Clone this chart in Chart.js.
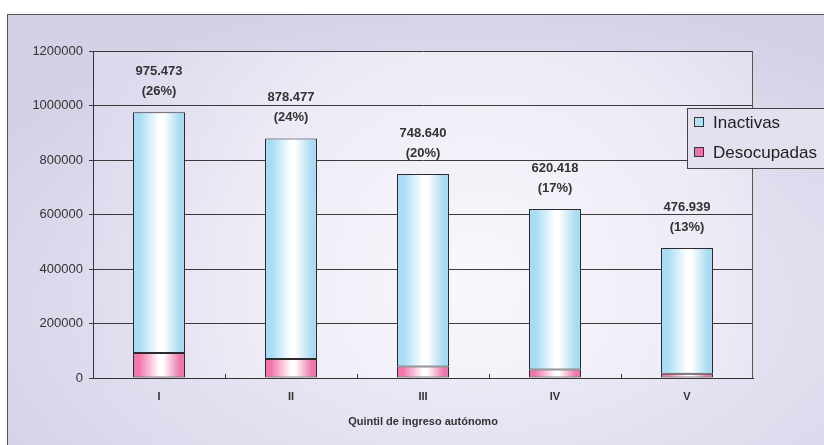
<!DOCTYPE html>
<html>
<head>
<meta charset="utf-8">
<script src="https://cdn.jsdelivr.net/npm/chart.js@4"></script>
<style>
  html, body { margin: 0; padding: 0; background: #fff; overflow: hidden; }
  #frame {
    position: absolute; left: 7px; top: 14px; width: 900px; height: 500px;
    border-left: 1px solid #555; border-top: 1px solid #555;
    background: radial-gradient(ellipse 62% 62% at 52% 58%, #f1f0f8 0%, #e2e0f0 55%, #d4d1e7 100%);
  }
  #myChart { position: absolute; left: 0; top: 0; }
</style>
</head>
<body>
<div id="frame"></div>
<canvas id="myChart" width="824" height="445"></canvas>
<script>
// quintiles
const quintiles = ['I', 'II', 'III', 'IV', 'V'];
// totals shown above the bars
const totals = [975473, 878477, 748640, 620418, 476939];
// series (stacked)
const desocupadas = [92000, 70000, 42000, 31000, 16000];
const inactivas = [883473, 808477, 706640, 589418, 460939];
// y axis ticks
const yTicks = [0, 200000, 400000, 600000, 800000, 1000000, 1200000];

const FONT = '"Liberation Sans", Arial, sans-serif';
const TXT = '#333333';
const BAR_RATIO = 52 / 132;

const grandTotal = totals.reduce((a, b) => a + b, 0);

function fmt(n) {
    return String(n).replace(/\B(?=(\d{3})+(?!\d))/g, '.');
}

// horizontal gradient for each bar, like the old excel cylinders
function barFill(edge, mid) {
    return function(c) {
        const chart = c.chart;
        if (!chart.chartArea || !chart.scales.x) return edge;
        const xs = chart.scales.x;
        const x = xs.getPixelForValue(c.dataIndex);
        const w = xs.width / quintiles.length * BAR_RATIO;
        const g = chart.ctx.createLinearGradient(x - w / 2, 0, x + w / 2, 0);
        g.addColorStop(0, edge);
        g.addColorStop(0.12, edge);
        g.addColorStop(0.5, mid);
        g.addColorStop(0.58, mid);
        g.addColorStop(0.9, edge);
        g.addColorStop(1, edge);
        return g;
    };
}

const plotBg = {
    id: 'plotBg',
    beforeDraw(chart) {
        const {ctx, chartArea: a} = chart;
        const g = ctx.createRadialGradient(a.left + a.width * 0.58, a.top + a.height * 0.7, 10,
                                           a.left + a.width * 0.58, a.top + a.height * 0.7, a.width * 0.62);
        g.addColorStop(0, '#f8f7fc');
        g.addColorStop(0.6, '#eceaf5');
        g.addColorStop(1, '#dcd9ed');
        ctx.save();
        ctx.fillStyle = g;
        ctx.fillRect(a.left, a.top, a.width, a.height);
        ctx.restore();
    },
    afterDatasetsDraw(chart) {
        const {ctx, chartArea: a, scales} = chart;
        ctx.save();
        // right border of the plot
        ctx.strokeStyle = '#555';
        ctx.lineWidth = 1;
        ctx.beginPath();
        ctx.moveTo(Math.round(a.right) - 0.5, a.top);
        ctx.lineTo(Math.round(a.right) - 0.5, a.bottom);
        ctx.stroke();
        // small inner ticks between categories
        ctx.strokeStyle = '#333';
        for (let i = 1; i < quintiles.length; i++) {
            const x = Math.round((scales.x.getPixelForValue(i - 1) + scales.x.getPixelForValue(i)) / 2) + 0.5;
            ctx.beginPath();
            ctx.moveTo(x, a.bottom - 4);
            ctx.lineTo(x, a.bottom);
            ctx.stroke();
        }
        // totals and shares above the bars
        ctx.fillStyle = TXT;
        ctx.font = 'bold 13px ' + FONT;
        ctx.textAlign = 'center';
        ctx.textBaseline = 'middle';
        totals.forEach((t, i) => {
            const x = scales.x.getPixelForValue(i);
            const y = scales.y.getPixelForValue(t);
            ctx.fillText(fmt(t), x, y - 41);
            ctx.fillText('(' + Math.round(t / grandTotal * 100) + '%)', x, y - 21);
        });
        ctx.restore();
    },
    afterDraw(chart) {
        // legend box at the right
        const ctx = chart.ctx;
        const items = chart.data.datasets.slice().reverse();
        ctx.save();
        ctx.fillStyle = '#e3e1f0';
        ctx.fillRect(687.5, 108.5, 160, 60);
        ctx.strokeStyle = '#444';
        ctx.lineWidth = 1;
        ctx.strokeRect(687.5, 108.5, 160, 60);
        ctx.font = '17px ' + FONT;
        ctx.textBaseline = 'middle';
        ctx.textAlign = 'left';
        items.forEach((ds, i) => {
            const y = 122 + i * 30;
            ctx.fillStyle = ds.legendColor;
            ctx.fillRect(694.5, y - 4.5, 9, 9);
            ctx.strokeStyle = '#333';
            ctx.strokeRect(694.5, y - 4.5, 9, 9);
            ctx.fillStyle = '#222';
            ctx.fillText(ds.label, 713, y + 1);
        });
        ctx.restore();
    }
};

const ctx = document.getElementById('myChart').getContext('2d');
const myChart = new Chart(ctx, {
    type: 'bar',
    data: {
        labels: quintiles,
        datasets: [{
            label: 'Desocupadas',
            data: desocupadas,
            legendColor: '#f06fa9',
            backgroundColor: barFill('#f176ab', '#ffffff'),
            borderColor: '#2b2b2b',
            borderWidth: 1,
            borderSkipped: false,
            inflateAmount: 0
        }, {
            label: 'Inactivas',
            data: inactivas,
            legendColor: '#aee0f6',
            backgroundColor: barFill('#a8dcf3', '#ffffff'),
            borderColor: '#2b2b2b',
            borderWidth: 1,
            borderSkipped: false,
            inflateAmount: 0
        }]
    },
    options: {
        responsive: false,
        animation: false,
        layout: { padding: { top: 51, right: 71, left: 0, bottom: 0 } },
        plugins: {
            legend: { display: false },
            tooltip: { enabled: false }
        },
        datasets: {
            bar: { categoryPercentage: 1, barPercentage: BAR_RATIO }
        },
        scales: {
            x: {
                stacked: true,
                grid: { display: false, drawTicks: false },
                border: { display: true, color: '#333', width: 1 },
                ticks: { color: TXT, font: { family: FONT, size: 11, weight: 'bold' }, padding: 12 },
                title: {
                    display: true,
                    text: 'Quintil de ingreso autónomo',
                    color: TXT,
                    font: { family: FONT, size: 11, weight: 'bold' },
                    padding: { top: 0, bottom: 16 }
                },
                afterFit(scale) { scale.height = 67; }
            },
            y: {
                stacked: true,
                min: 0,
                max: 1200000,
                afterBuildTicks(scale) { scale.ticks = yTicks.map(v => ({ value: v })); },
                grid: { color: '#3a3a3a', lineWidth: 1, tickLength: 4 },
                border: { display: true, color: '#333', width: 1 },
                ticks: {
                    color: TXT,
                    font: { family: FONT, size: 13 },
                    padding: 6,
                    callback: v => String(v)
                },
                afterFit(scale) { scale.width = 93; }
            }
        }
    },
    plugins: [plotBg]
});
</script>
</body>
</html>
